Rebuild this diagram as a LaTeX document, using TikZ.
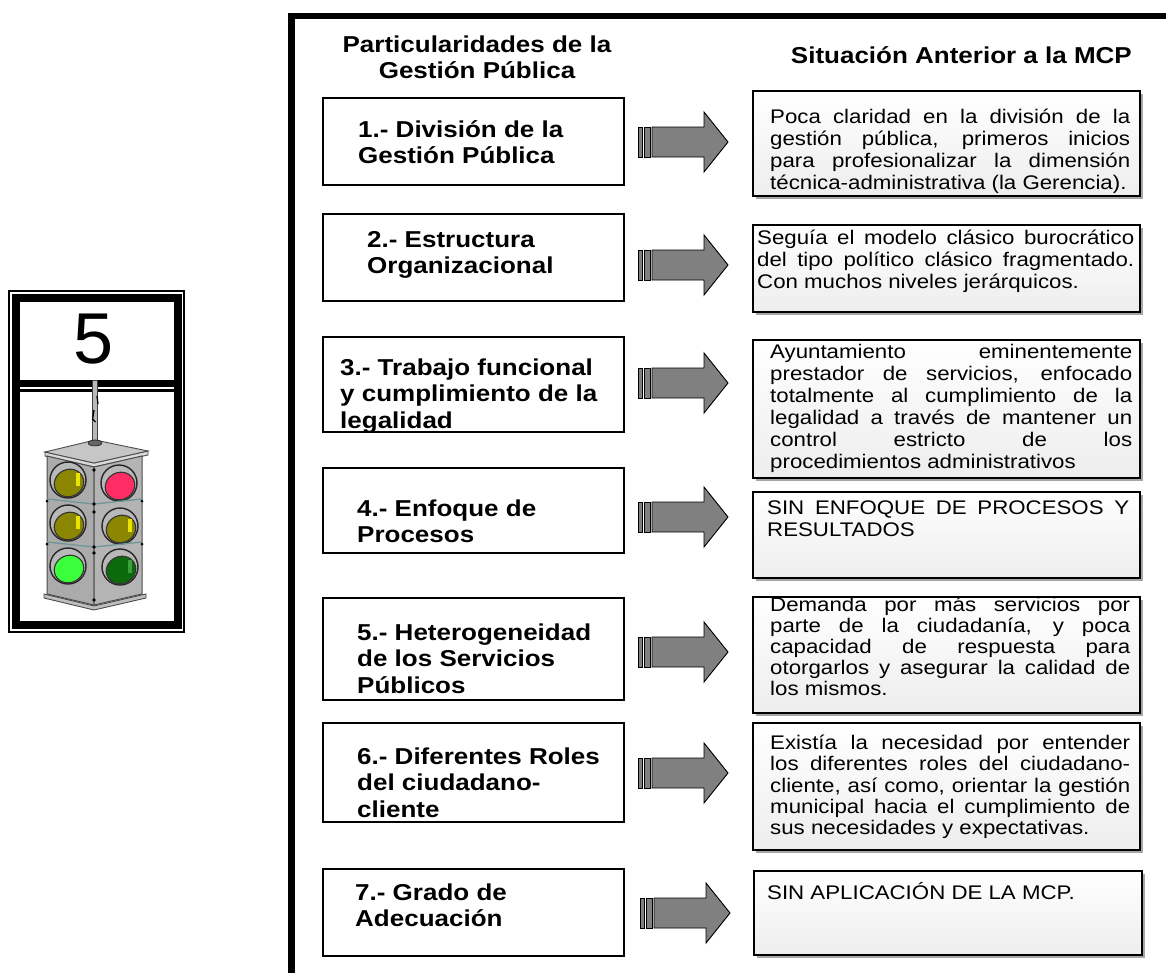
\documentclass[tikz,border=0pt]{standalone}
\usepackage{fontspec}
\setmainfont{Liberation Sans}[FakeStretch=1.13]
\newfontfamily\digitfont{Liberation Sans}
\usetikzlibrary{shadows}

\definecolor{arrowgray}{HTML}{808080}
\definecolor{lampolive}{HTML}{8A8600}
\definecolor{lampshine}{HTML}{E8E400}
\definecolor{lampred}{HTML}{FF2D63}
\definecolor{lampgreen}{HTML}{3CFF3C}
\definecolor{lampdark}{HTML}{0B6B0B}
\definecolor{lampdarkshine}{HTML}{3BA03B}
\definecolor{bandcol}{HTML}{6F9696}
\definecolor{bodyleft}{HTML}{ABABAB}
\definecolor{bodyright}{HTML}{B4B4B4}

\newcommand\bodysize[1]{\fontsize{19.7}{#1}\selectfont}
\newcommand\headsize{\fontsize{23}{26.5}\selectfont\bfseries}

\begin{document}
\begin{tikzpicture}[x=1pt,y=-1pt,
  lbox/.style={draw, line width=1.3, fill=white, anchor=north west,
    inner sep=0, outer sep=0, minimum width=301},
  rbox/.style={draw, line width=1.3, anchor=north west, inner sep=0,
    outer sep=0, top color=white, bottom color=black!7,
    drop shadow={shadow xshift=2.5pt, shadow yshift=-2.5pt,
      fill=black!35, opacity=1}},
  ltxt/.style={anchor=north west, inner sep=0, align=left, font=\headsize},
  rtxt/.style={anchor=north west, inner sep=0, align=justify, text width=#1},
  pics/blockarrow/.style={code={
    \begin{scope}[draw=black, fill=arrowgray, line width=0.9]
      \filldraw (0,-15) rectangle (4.5,15);
      \filldraw (6,-15) rectangle (12,15);
      \filldraw (14,-15) -- (66,-15) -- (66,-30) -- (90,0) -- (66,30)
        -- (66,15) -- (14,15) -- cycle;
    \end{scope}
  }},
  pics/lamp/.style n args={2}{code={
    \draw[fill=gray!55, draw=black!85, line width=1.4] (-1,-1) circle (18);
    \draw[fill=#1, draw=black!80, line width=1.1] (0,2)
      ellipse [x radius=15, y radius=13.5, rotate=25];
    \ifx#2\relax\else
      \fill[#2] (7,-8) rectangle (10.5,5);
    \fi
  }}
]
\useasboundingbox (0,0) rectangle (1166,972);

% ---------- signal panel ----------
\draw[line width=1.7] (9.2,291) rectangle (184.2,631.8);
\draw[line width=8] (16.2,298) rectangle (177.5,625);
\draw[line width=7.4] (16.2,383.7) -- (177.5,383.7);
\draw[line width=2.4] (20.2,390.5) -- (173.5,390.5);
\node[font=\digitfont\fontsize{72}{72}\selectfont, anchor=base, inner sep=0]
  (five) at (94,363) {5};

% pole
\draw[fill=gray!55, draw=black!75, line width=0.8] (92.5,380) rectangle (97.5,444);
\draw[line width=1.3] (97,396) -- (98,404) (94,410) -- (92.6,419) -- (95.5,422);
% lid
\draw[fill=gray!30, draw=black!70, line width=0.9]
  (45,452) -- (94,463) -- (148,451) -- (148,455) -- (94,467) -- (45,456) -- cycle;
\draw[fill=gray!45, draw=black!70, line width=0.9]
  (45,452) -- (95,440) -- (148,451) -- (94,463) -- cycle;
\draw[fill=black!60] (95,443) ellipse [x radius=7, y radius=3];
% faces
\draw[fill=bodyleft, draw=black!70, line width=1]
  (47,456) -- (94,467) -- (94,605) -- (47,594) -- cycle;
\draw[fill=bodyright, draw=black!70, line width=1]
  (94,467) -- (142,456) -- (142,594) -- (94,605) -- cycle;
% base
\draw[fill=gray!50, draw=black!70, line width=0.9]
  (44,594) -- (94,606) -- (146,594) -- (146,598) -- (94,610) -- (44,598) -- cycle;
% lamps
\pic at (69,481) {lamp={lampolive}{lampshine}};
\pic at (120,484) {lamp={lampred}{\relax}};
\pic at (69,524) {lamp={lampolive}{lampshine}};
\pic at (121,527) {lamp={lampolive}{lampshine}};
\pic at (69,567) {lamp={lampgreen}{\relax}};
\pic at (121,568) {lamp={lampdark}{lampdarkshine}};
% bands
\draw[bandcol, line width=1.3] (47,499) -- (94,504) -- (142,499);
\draw[bandcol, line width=1.3] (47,542) -- (94,547) -- (142,542);
\foreach \yy in {504,512,547,553,470,600} \fill (94,\yy) circle (1.8);
\foreach \yy in {501,544} { \fill (47,\yy) circle (1.5); \fill (142,\yy) circle (1.5); }

% ---------- frame ----------
\draw[line width=6.5] (291.3,975) -- (291.3,16) -- (1170,16);

% ---------- headings ----------
\node[anchor=north, inner sep=0, align=center,
  font=\fontsize{23}{26}\selectfont\bfseries] (hleft) at (477,{52-18.2})
  {\strut Particularidades de la\\Gestión Pública};
\node[anchor=base east, inner sep=0, font=\fontsize{23}{26}\selectfont\bfseries]
  (hright) at (1132,63) {Situación Anterior a la MCP};

% ---------- left column ----------
\node[lbox, minimum height=87]  (l1) at (323,98)  {};
\node[lbox, minimum height=87]  (l2) at (323,214) {};
\node[lbox, minimum height=95]  (l3) at (323,337) {};
\node[lbox, minimum height=85]  (l4) at (323,468) {};
\node[lbox, minimum height=102] (l5) at (323,598) {};
\node[lbox, minimum height=99]  (l6) at (323,723) {};
\node[lbox, minimum height=87]  (l7) at (323,869) {};

\node[ltxt] (l1t) at (358,{137-18.55}) {\strut 1.- División de la\\Gestión Pública};
\node[ltxt] (l2t) at (367,{247-18.55}) {\strut 2.- Estructura\\Organizacional};
\node[ltxt] (l3t) at (340,{375-18.55}) {\strut 3.- Trabajo funcional\\y cumplimiento de la\\legalidad};
\node[ltxt] (l4t) at (357,{516-18.55}) {\strut 4.- Enfoque de\\Procesos};
\node[ltxt] (l5t) at (357,{640-18.55}) {\strut 5.- Heterogeneidad\\de los Servicios\\Públicos};
\node[ltxt] (l6t) at (357,{764-18.55}) {\strut 6.- Diferentes Roles\\del ciudadano-\\cliente};
\node[ltxt] (l7t) at (355,{900-18.55}) {\strut 7.- Grado de\\Adecuación};

% ---------- arrows ----------
\pic at (638,142) {blockarrow};
\pic at (638,265) {blockarrow};
\pic at (638,383) {blockarrow};
\pic at (638,517) {blockarrow};
\pic at (638,652) {blockarrow};
\pic at (638,773) {blockarrow};
\pic at (640,913) {blockarrow};

% ---------- right column ----------
\node[rbox, minimum width=387, minimum height=105] (r1) at (753,91)  {};
\node[rbox, minimum width=387, minimum height=87]  (r2) at (753,225) {};
\node[rbox, minimum width=387, minimum height=138] (r3) at (753,340) {};
\node[rbox, minimum width=387, minimum height=86]  (r4) at (753,492) {};
\node[rbox, minimum width=387, minimum height=116] (r5) at (753,597) {};
\node[rbox, minimum width=387, minimum height=127] (r6) at (753,723) {};
\node[rbox, minimum width=388, minimum height=84]  (r7) at (754,871) {};

\begin{scope}[every node/.append style={execute at begin node={\hyphenpenalty=10000\tolerance=10000\noindent}}]
\node[rtxt=360, font=\bodysize{22}] (r1t) at (770,{123-15.4})
  {\strut Poca claridad en la división de la\linebreak
   gestión pública, primeros inicios\linebreak
   para profesionalizar la dimensión\linebreak
   técnica-administrativa (la Gerencia).};
\node[rtxt=377, font=\bodysize{22}] (r2t) at (757,{244-15.4})
  {\strut Seguía el modelo clásico burocrático\linebreak
   del tipo político clásico fragmentado.\linebreak
   Con muchos niveles jerárquicos.};
\node[rtxt=362, font=\bodysize{22}] (r3t) at (770,{358-15.4})
  {\strut Ayuntamiento eminentemente\linebreak
   prestador de servicios, enfocado\linebreak
   totalmente al cumplimiento de la\linebreak
   legalidad a través de mantener un\linebreak
   control estricto de los\linebreak
   procedimientos administrativos};
\node[rtxt=362, font=\bodysize{22}] (r4t) at (767,{514-15.4})
  {\strut SIN ENFOQUE DE PROCESOS Y\linebreak RESULTADOS};
\node[rtxt=360, font=\bodysize{21}] (r5t) at (770,{611-14.7})
  {\strut Demanda por más servicios por\linebreak
   parte de la ciudadanía, y poca\linebreak
   capacidad de respuesta para\linebreak
   otorgarlos y asegurar la calidad de\linebreak
   los mismos.};
\node[rtxt=360, font=\bodysize{21.4}] (r6t) at (770,{749-14.98})
  {\strut Existía la necesidad por entender\linebreak
   los diferentes roles del ciudadano-\linebreak
   cliente, así como, orientar la gestión\linebreak
   municipal hacia el cumplimiento de\linebreak
   sus necesidades y expectativas.};
\node[rtxt=362, font=\bodysize{22}] (r7t) at (767,{898-15.4})
  {\strut SIN APLICACIÓN DE LA MCP.};
\end{scope}
\end{tikzpicture}
\end{document}
